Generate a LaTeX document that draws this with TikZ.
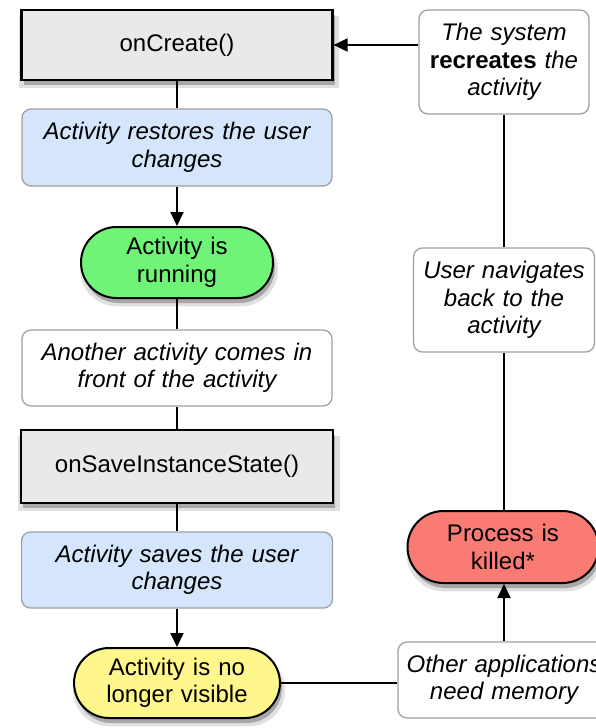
\documentclass[tikz,border=0pt]{standalone}
\usepackage{fontspec}
\setmainfont{Liberation Sans}
\usetikzlibrary{arrows.meta,shapes.misc,shadows}
\definecolor{boxgray}{HTML}{E9E9E9}
\definecolor{boxblue}{HTML}{D5E6FC}
\definecolor{pillgreen}{HTML}{70F478}
\definecolor{pillyellow}{HTML}{FFF68C}
\definecolor{pillred}{HTML}{F97B73}
\definecolor{lineborder}{HTML}{A0A0A0}
\tikzset{
  base/.style={align=center, inner sep=0pt, font=\fontsize{24}{27.5}\selectfont},
  softshadow/.style={
    drop shadow={shadow xshift=2pt, shadow yshift=-7pt, opacity=.12, shadow scale=1.03, fill=black},
    drop shadow={shadow xshift=2pt, shadow yshift=-5pt, opacity=.25, fill=black}},
  methodbox/.style={base, rectangle, draw=black, line width=2.2pt, fill=boxgray, softshadow},
  notebox/.style={base, rectangle, rounded corners=9pt, draw=lineborder, line width=1.3pt, fill=white, font=\fontsize{24}{27.5}\selectfont\itshape},
  bluebox/.style={notebox, fill=boxblue},
  pill/.style={base, rounded rectangle, draw=black, line width=2pt, softshadow},
  conn/.style={line width=2pt, draw=black},
  arrow/.style={conn, -{Triangle[length=14pt,width=13pt]}}
}
\begin{document}
\begin{tikzpicture}[x=1pt,y=-1pt]
\useasboundingbox (0,0) rectangle (596,728);
\clip (0,0) rectangle (596,728);
\fill[white] (0,0) rectangle (596,728);
% left column
\node[methodbox, minimum width=311pt, minimum height=70pt] (oncreate) at (177,45) {onCreate()};
\node[bluebox, minimum width=310pt, minimum height=77pt, text width=300pt] (restore) at (177,147.5) {Activity restores the user\\changes};
\node[pill, fill=pillgreen, minimum width=192pt, minimum height=71pt, text width=170pt] (running) at (177,262.5) {Activity is\\running};
\node[notebox, minimum width=310pt, minimum height=76pt, text width=300pt] (another) at (177,368) {Another activity comes in\\front of the activity};
\node[methodbox, minimum width=312pt, minimum height=73pt] (onsave) at (177,466.5) {onSaveInstanceState()};
\node[bluebox, minimum width=311pt, minimum height=76pt, text width=300pt] (saves) at (177,570) {Activity saves the user\\changes};
\node[pill, fill=pillyellow, minimum width=203pt, minimum height=70pt, text width=185pt] (notvisible) at (177,683) {Activity is no\\longer visible};
% right column
\node[notebox, minimum width=170pt, minimum height=104pt, text width=165pt] (system) at (504,62) {The system\\\textbf{\upshape recreates} the\\activity};
\node[notebox, minimum width=181pt, minimum height=104pt, text width=175pt] (navigates) at (504,300) {User navigates\\back to the\\activity};
\node[pill, fill=pillred, minimum width=191pt, minimum height=72pt, text width=170pt] (killed) at (503,547) {Process is\\killed*};
\node[notebox, minimum width=212pt, minimum height=76pt, text width=205pt] (other) at (504,680) {Other applications\\need memory};
% connectors
\draw[conn] (oncreate.south) -- (restore.north);
\draw[arrow] (restore.south) -- (running.north);
\draw[conn] (running.south) -- (another.north);
\draw[conn] (another.south) -- (onsave.north);
\draw[conn] (onsave.south) -- (saves.north);
\draw[arrow] (saves.south) -- (notvisible.north);
\draw[conn] (notvisible.east) -- (notvisible.east -| other.west);
\draw[arrow] (other.north) -- (other.north |- killed.south);
\draw[conn] (killed.north -| navigates.south) -- (navigates.south);
\draw[conn] (navigates.north) -- (system.south);
\draw[arrow] (oncreate.east -| system.west) -- (oncreate.east);
\end{tikzpicture}
\end{document}
